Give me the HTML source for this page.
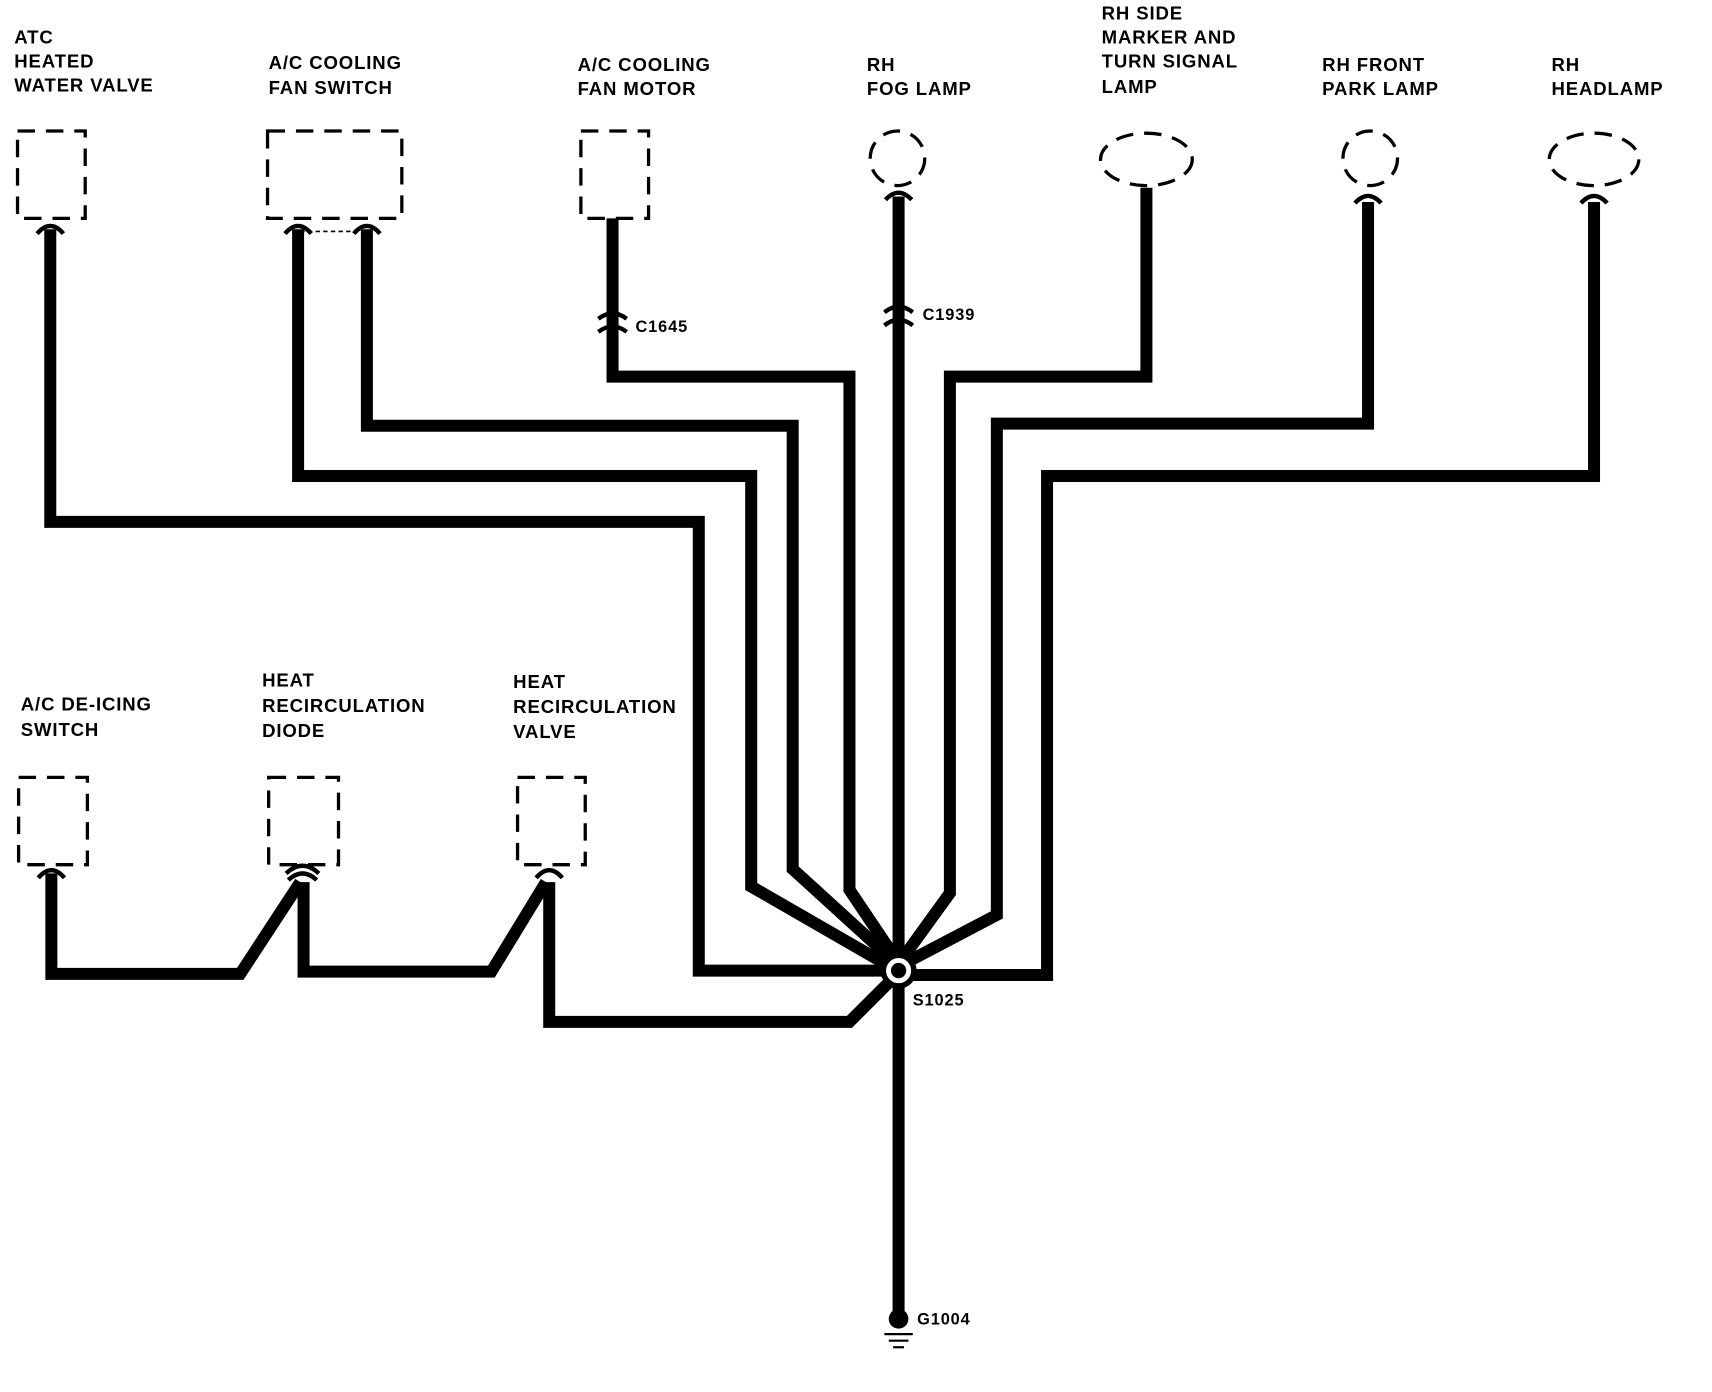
<!DOCTYPE html>
<html><head><style>
html,body{margin:0;padding:0;background:#fff;}
svg{display:block;}
text{font-family:"Liberation Sans",sans-serif;font-weight:bold;font-size:17px;fill:#000;letter-spacing:0.8px;}
</style></head><body>
<svg width="1712" height="1392" viewBox="0 0 1568 1275" xmlns="http://www.w3.org/2000/svg">
<rect width="1568" height="1275" fill="#fff"/>
<g fill="none" stroke="#000" stroke-width="11" stroke-linejoin="miter">
<path d="M46,210 V478 H640 V889 H812"/>
<path d="M273,210 V436 H688 V812 L813,884"/>
<path d="M336,210 V390 H726 V796 L816,878"/>
<path d="M561,200 V345 H778 V815 L819,876"/>
<path d="M823,180 V1205"/>
<path d="M1050,172 V345 H870 V818 L828,876"/>
<path d="M1253,185 V388 H913 V838 L833,880"/>
<path d="M1460,185 V436 H959 V893 H835"/>
<path d="M47,800 V892 H220 L275,808"/>
<path d="M278,808 V890 H450 L500,808"/>
<path d="M503,808 V936 H778 L818,896"/>
</g>
<g fill="none" stroke="#000" stroke-width="3" stroke-dasharray="16,10">
<rect x="16" y="120" width="62" height="80"/>
<rect x="245" y="120" width="123" height="80"/>
<rect x="532" y="120" width="62" height="80"/>
<circle cx="822" cy="145" r="25"/>
<ellipse cx="1050" cy="146" rx="42" ry="24"/>
<circle cx="1255" cy="145" r="25"/>
<ellipse cx="1460" cy="146" rx="41" ry="24"/>
<rect x="17" y="712" width="63" height="80"/>
<rect x="246" y="712" width="64" height="80"/>
<rect x="474" y="712" width="62" height="80"/>
</g>
<line x1="275" y1="212" x2="336" y2="212" stroke="#000" stroke-width="1.5" stroke-dasharray="4,3"/>
<g fill="none" stroke="#000" stroke-width="4">
<path d="M34,214 Q46,200 58,214"/>
<path d="M261,214 Q273,200 285,214"/>
<path d="M324,214 Q336,200 348,214"/>
<path d="M811,183 Q823,170 835,183"/>
<path d="M1241,186 Q1253,173 1265,186"/>
<path d="M1448,186 Q1460,173 1472,186"/>
<path d="M35,804 Q47,790 59,804"/>
<path d="M262,800 Q277,786 292,800"/>
<path d="M264,806 Q277,794 290,806"/>
<path d="M491,804 Q503,790 515,804"/>
<path d="M548,292 Q561,282 574,292"/>
<path d="M548,304 Q561,294 574,304"/>
<path d="M810,286 Q823,276 836,286"/>
<path d="M810,298 Q823,288 836,298"/>
</g>
<circle cx="823" cy="889" r="14" fill="#fff" stroke="#000" stroke-width="5"/>
<circle cx="823" cy="889" r="7" fill="#000"/>
<circle cx="823" cy="1208" r="9" fill="#000"/>
<g stroke="#000" stroke-width="2">
<line x1="810" y1="1222" x2="836" y2="1222"/>
<line x1="814" y1="1228" x2="832" y2="1228"/>
<line x1="818" y1="1234" x2="828" y2="1234"/>
</g>
<text x="13" y="40">ATC</text><text x="13" y="62">HEATED</text><text x="13" y="84">WATER VALVE</text>
<text x="246" y="63">A/C COOLING</text><text x="246" y="86">FAN SWITCH</text>
<text x="529" y="65">A/C COOLING</text><text x="529" y="87">FAN MOTOR</text>
<text x="794" y="65">RH</text><text x="794" y="87">FOG LAMP</text>
<text x="1009" y="18">RH SIDE</text><text x="1009" y="40">MARKER AND</text><text x="1009" y="62">TURN SIGNAL</text><text x="1009" y="85">LAMP</text>
<text x="1211" y="65">RH FRONT</text><text x="1211" y="87">PARK LAMP</text>
<text x="1421" y="65">RH</text><text x="1421" y="87">HEADLAMP</text>
<text x="19" y="651">A/C DE-ICING</text><text x="19" y="674">SWITCH</text>
<text x="240" y="629">HEAT</text><text x="240" y="652">RECIRCULATION</text><text x="240" y="675">DIODE</text>
<text x="470" y="630">HEAT</text><text x="470" y="653">RECIRCULATION</text><text x="470" y="676">VALVE</text>
<text x="582" y="304" style="font-size:15px">C1645</text>
<text x="845" y="293" style="font-size:15px">C1939</text>
<text x="836" y="921" style="font-size:15px">S1025</text>
<text x="840" y="1213" style="font-size:15px">G1004</text>
</svg>
</body></html>
